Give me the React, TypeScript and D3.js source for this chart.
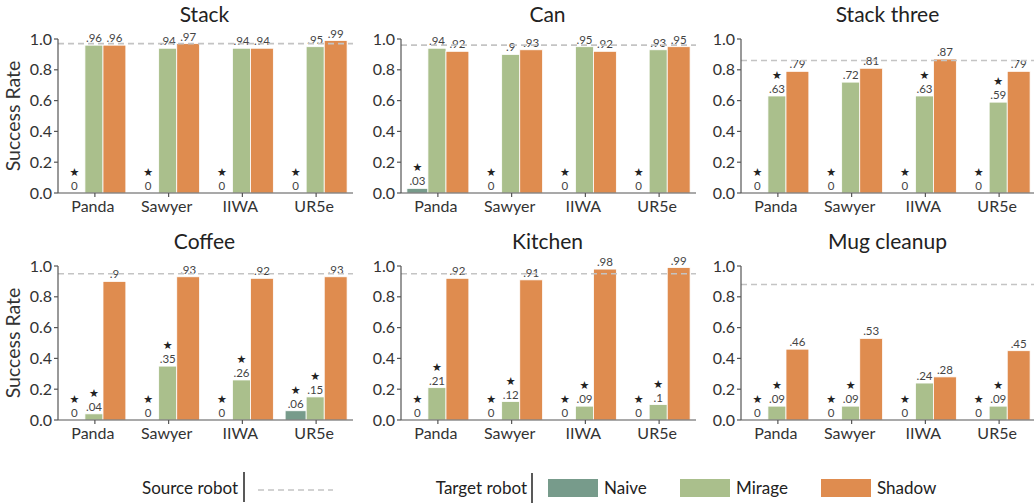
import React from "react";
import * as d3 from "d3";

// Robots on the x axis of every panel
const robots = ["Panda", "Sawyer", "IIWA", "UR5e"];
// One panel per task, laid out in two rows of three
const tasks = ["Stack", "Can", "Stack three", "Coffee", "Kitchen", "Mug cleanup"];

// Success rates per task (rows) and robot (columns)
const naiveRates = [
  [0, 0, 0, 0],
  [0.03, 0, 0, 0],
  [0, 0, 0, 0],
  [0, 0, 0, 0.06],
  [0, 0, 0, 0],
  [0, 0, 0, 0],
];
const mirageRates = [
  [0.96, 0.94, 0.94, 0.95],
  [0.94, 0.9, 0.95, 0.93],
  [0.63, 0.72, 0.63, 0.59],
  [0.04, 0.35, 0.26, 0.15],
  [0.21, 0.12, 0.09, 0.1],
  [0.09, 0.09, 0.24, 0.09],
];
const shadowRates = [
  [0.96, 0.97, 0.94, 0.99],
  [0.92, 0.93, 0.92, 0.95],
  [0.79, 0.81, 0.87, 0.79],
  [0.9, 0.93, 0.92, 0.93],
  [0.92, 0.91, 0.98, 0.99],
  [0.46, 0.53, 0.28, 0.45],
];
// Source robot success rate (dashed reference line)
const sourceRates = [0.97, 0.96, 0.86, 0.95, 0.95, 0.88];

// Significance markers (★) per bar
const naiveStars = [
  [1, 1, 1, 1],
  [1, 1, 1, 1],
  [1, 1, 1, 1],
  [1, 1, 1, 1],
  [1, 1, 1, 1],
  [1, 1, 1, 1],
];
const mirageStars = [
  [0, 0, 0, 0],
  [0, 0, 0, 0],
  [1, 0, 1, 1],
  [1, 1, 1, 1],
  [1, 1, 1, 1],
  [1, 1, 0, 1],
];

const yTicks = [0, 0.2, 0.4, 0.6, 0.8, 1.0];
const seriesNames = ["Naive", "Mirage", "Shadow"];
const seriesColors = ["#779b8b", "#aabf8c", "#df8c4f"];

const FONT = "Lato, 'Noto Sans', sans-serif";
const TEXT = "#333";
const AXIS = "#555";

const panelLefts = [58, 401, 741];
const panelBottoms = [193, 420];
const PW = 295;
const PH = 154;

const fmt = (v: number) => (v === 0 ? "0" : String(v).replace(/^0/, ""));

function Panel({ t }: { t: number }) {
  const col = t % 3;
  const row = Math.floor(t / 3);
  const left = panelLefts[col];
  const bottom = panelBottoms[row];
  const top = bottom - PH;

  const x = d3.scaleBand<string>().domain(robots).range([left, left + PW]).padding(0);
  const y = d3.scaleLinear().domain([0, 1]).range([bottom, top]);
  // Bar edges within a group, as a fraction of the group's band
  const edge = d3.scaleLinear().domain([0, 3]).range([-0.42, 0.42]);
  const edges = [edge(0), edge(1) + 0.005, edge(2) - 0.03, edge(3)];

  const series = [naiveRates[t], mirageRates[t], shadowRates[t]];
  const stars = [naiveStars[t], mirageStars[t], [0, 0, 0, 0]];
  const step = x.step();

  return (
    <g>
      <text
        x={left + PW / 2 - 1}
        y={top - 17}
        textAnchor="middle"
        fontFamily={FONT}
        fontSize={21}
        fill="#222"
      >
        {tasks[t]}
      </text>
      {col === 0 && (
        <text
          transform={`translate(${left - 38},${(top + bottom) / 2}) rotate(-90)`}
          textAnchor="middle"
          fontFamily={FONT}
          fontSize={19.5}
          fill={TEXT}
        >
          Success Rate
        </text>
      )}
      {/* bars */}
      {robots.map((r, i) => {
        const c = (x(r) as number) + step / 2;
        return series.map((vals, s) => {
          const x0 = c + edges[s] * step;
          const x1 = c + edges[s + 1] * step;
          const cx = (x0 + x1) / 2;
          const v = vals[i];
          const yt = y(v);
          const starred = stars[s][i] === 1;
          return (
            <g key={`${r}-${s}`}>
              {v > 0 && (
                <rect
                  x={x0}
                  y={yt}
                  width={x1 - x0}
                  height={bottom - yt}
                  fill={seriesColors[s]}
                  stroke="#fff"
                  strokeWidth={0.8}
                />
              )}
              <text x={cx} y={yt - 3} textAnchor="middle" fontFamily={FONT} fontSize={11.5} fill="#444">
                {fmt(v)}
              </text>
              {starred && (
                <text
                  x={cx}
                  y={yt - 17}
                  textAnchor="middle"
                  fontFamily="'DejaVu Sans', sans-serif"
                  fontSize={11}
                  fill="#222"
                >
                  ★
                </text>
              )}
            </g>
          );
        });
      })}
      {/* source robot reference */}
      <line
        x1={left}
        x2={left + PW}
        y1={y(sourceRates[t])}
        y2={y(sourceRates[t])}
        stroke="#c4c4c4"
        strokeWidth={1.6}
        strokeDasharray="6,4"
      />
      {/* y axis */}
      <line x1={left} x2={left} y1={top} y2={bottom} stroke={AXIS} strokeWidth={1.2} />
      {yTicks.map((v) => (
        <g key={v}>
          <line x1={left - 4} x2={left} y1={y(v)} y2={y(v)} stroke={AXIS} strokeWidth={1.2} />
          <text
            x={left - 6}
            y={y(v)}
            dy="0.35em"
            textAnchor="end"
            fontFamily={FONT}
            fontSize={16}
            fill={TEXT}
          >
            {v.toFixed(1)}
          </text>
        </g>
      ))}
      {/* x axis */}
      <line x1={left} x2={left + PW} y1={bottom} y2={bottom} stroke={AXIS} strokeWidth={1.2} />
      {robots.map((r) => {
        const c = (x(r) as number) + step / 2;
        return (
          <g key={r}>
            <line x1={c} x2={c} y1={bottom} y2={bottom + 4} stroke={AXIS} strokeWidth={1.2} />
            <text
              x={c - 2}
              y={bottom + 19}
              textAnchor="middle"
              fontFamily={FONT}
              fontSize={16}
              fill={TEXT}
            >
              {r}
            </text>
          </g>
        );
      })}
    </g>
  );
}

function Legend() {
  const ly = 488;
  const swatchX = [548, 680, 821];
  return (
    <g fontFamily={FONT} fontSize={17} fill="#222">
      <text x={238} y={ly} dy="0.35em" textAnchor="end">
        Source robot
      </text>
      <line x1={244} x2={244} y1={472} y2={502} stroke="#222" strokeWidth={1.5} />
      <line x1={258} x2={333} y1={490} y2={490} stroke="#c4c4c4" strokeWidth={1.6} strokeDasharray="6,4" />
      <text x={527} y={ly} dy="0.35em" textAnchor="end">
        Target robot
      </text>
      <line x1={532} x2={532} y1={473} y2={503} stroke="#222" strokeWidth={1.5} />
      {seriesNames.map((n, i) => (
        <g key={n}>
          <rect x={swatchX[i]} y={479} width={50} height={18} fill={seriesColors[i]} />
          <text x={swatchX[i] + 56} y={ly} dy="0.35em">
            {n}
          </text>
        </g>
      ))}
    </g>
  );
}

export default function App() {
  return (
    <svg width={1034} height={504} style={{ position: "absolute", left: 0, top: 0, background: "#fff" }}>
      <rect width={1034} height={504} fill="#fff" />
      {tasks.map((_, t) => (
        <Panel key={t} t={t} />
      ))}
      <Legend />
    </svg>
  );
}
